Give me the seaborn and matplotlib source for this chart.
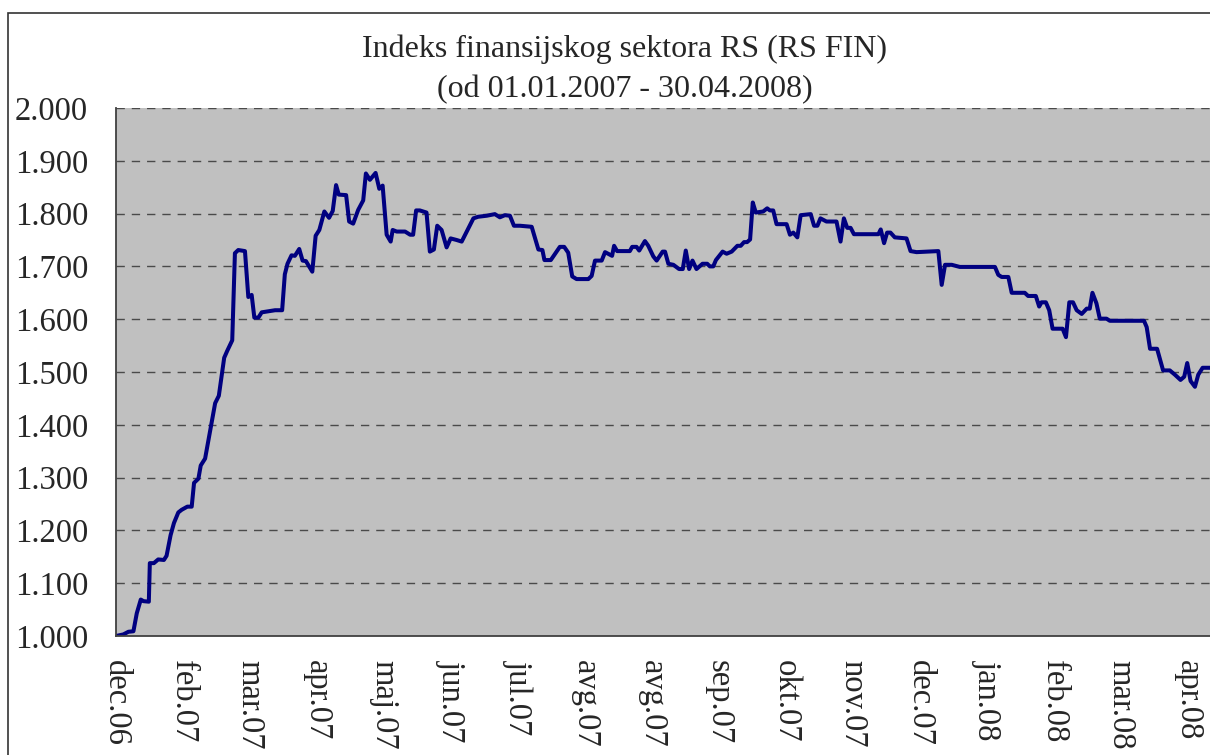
import pandas as pd
import seaborn as sns
import matplotlib.pyplot as plt
from matplotlib.patches import Rectangle

# trading-day index (0 = first point) and index value
day = [0.0, 2.2, 3.7, 5.2, 6.2, 7.4, 8.2, 9.8, 10.1, 11.3, 12.6, 14.3, 15.1, 16.3,
       17.3, 18.6, 19.6, 21.3, 22.6, 23.3, 24.6, 25.3, 26.6, 28.1, 29.6, 30.7, 32.3,
       33.2, 34.7, 35.5, 36.5, 38.5, 39.5, 40.5, 41.3, 42.5, 43.5, 45.5, 47.5, 49.6,
       50.4, 51.2, 52.4, 53.4, 54.7, 55.7, 56.7, 58.6, 59.6, 60.7, 62.2, 63.6, 64.7,
       65.7, 66.5, 68.7, 69.6, 70.8, 72.3, 73.8, 74.6, 75.8, 77.5, 78.6, 79.6,
       80.8, 82.0, 82.6, 83.8, 86.3, 87.8, 88.7, 89.6, 90.7, 92.7, 93.7, 94.9, 95.9,
       97.2, 98.7, 99.9, 101.7, 103.2, 104.7, 106.7, 108.1, 110.7, 113.1, 114.6,
       116.1, 117.6, 118.8, 120.6, 124.1, 126.1, 127.3, 127.9, 129.8, 132.5, 133.8,
       135.0, 136.2, 137.5, 141.0, 142.0, 143.0, 145.0, 146.0, 148.1, 148.7, 149.6,
       153.4, 154.1, 155.4, 156.2, 157.9, 158.9, 160.4, 161.4,
       163.2, 163.9, 164.9, 166.4, 168.1, 169.2, 170.1, 171.1, 172.1, 173.3, 175.1,
       176.5, 177.3, 178.3, 179.1, 181.1, 182.3, 183.8, 185.5, 186.5, 187.5, 188.4,
       189.3, 190.1, 191.0, 193.2, 194.4, 195.2, 196.2, 197.2, 200.2, 201.2, 202.2,
       203.4, 204.4, 207.4, 208.4, 209.4, 210.3, 212.1, 215.1, 216.3, 217.3, 218.3,
       219.3, 220.3, 227.6, 228.3, 229.3, 230.2, 231.2, 232.5, 236.0, 237.2, 239.0,
       245.5, 246.5, 247.5, 249.5, 251.9, 262.4, 263.4, 264.4, 266.4, 267.4, 271.3,
       272.3, 274.6, 275.6, 276.3, 277.6, 278.6, 279.6, 282.6, 283.6, 284.6, 285.7,
       286.8, 288.3, 289.8, 290.7, 291.5, 292.7, 293.7, 295.7, 296.7, 306.9, 307.7,
       308.7, 310.8, 312.6, 314.6, 316.1, 317.8, 318.9, 319.8, 320.8, 322.1, 323.1,
       324.4, 326.6]
index_value = [1.000, 1.003, 1.008, 1.009, 1.043, 1.069, 1.066, 1.065, 1.138, 1.138,
               1.145, 1.144, 1.152, 1.191, 1.214, 1.234, 1.239, 1.245, 1.245, 1.290,
               1.298, 1.323, 1.336, 1.389, 1.441, 1.455, 1.527, 1.540, 1.560, 1.725,
               1.731, 1.729, 1.642, 1.646, 1.603, 1.603, 1.613, 1.615, 1.617, 1.617,
               1.685, 1.705, 1.721, 1.720, 1.733, 1.711, 1.710, 1.690, 1.758, 1.769,
               1.804, 1.792, 1.805, 1.854, 1.836, 1.835, 1.785, 1.781, 1.807, 1.825,
               1.876, 1.864, 1.877, 1.847, 1.853,
               1.760, 1.747, 1.769, 1.766, 1.766, 1.760, 1.760, 1.806, 1.806, 1.802,
               1.728, 1.732, 1.777, 1.769, 1.736, 1.753, 1.750, 1.747, 1.766, 1.791,
               1.794, 1.796, 1.799, 1.793, 1.797, 1.796, 1.777, 1.777, 1.775, 1.732,
               1.731, 1.712, 1.712, 1.737, 1.737, 1.726, 1.681, 1.676, 1.676, 1.682,
               1.711, 1.711, 1.727, 1.720, 1.739, 1.729, 1.729, 1.737, 1.737, 1.730,
               1.748, 1.739, 1.719, 1.711,
               1.728, 1.728, 1.705, 1.703, 1.695, 1.695, 1.730, 1.695, 1.711, 1.695,
               1.705, 1.705, 1.700, 1.700, 1.712, 1.728, 1.724, 1.728, 1.739, 1.739,
               1.746, 1.746, 1.751, 1.821, 1.802, 1.804, 1.810, 1.806, 1.806, 1.780,
               1.780, 1.760, 1.764, 1.755, 1.797, 1.799, 1.777, 1.777, 1.791, 1.785,
               1.785, 1.747, 1.791, 1.773, 1.773, 1.761, 1.761, 1.770, 1.744, 1.764,
               1.764, 1.755, 1.753, 1.729, 1.727,
               1.729, 1.665, 1.703, 1.703, 1.699, 1.699, 1.684, 1.680, 1.680, 1.650,
               1.650, 1.644, 1.644, 1.624, 1.632, 1.632, 1.617, 1.582, 1.582, 1.566,
               1.632, 1.632, 1.617, 1.610, 1.620, 1.620, 1.650, 1.630, 1.601, 1.601,
               1.597, 1.597, 1.585, 1.544, 1.544, 1.503, 1.503, 1.495, 1.485, 1.491,
               1.517, 1.483, 1.472, 1.495, 1.508, 1.508]

month_labels = ['dec.06', 'feb.07', 'mar.07', 'apr.07', 'maj.07', 'jun.07', 'jul.07',
                'avg.07', 'avg.07', 'sep.07', 'okt.07', 'nov.07', 'dec.07', 'jan.08',
                'feb.08', 'mar.08', 'apr.08']
label_step = 20
y_ticks = [1.0, 1.1, 1.2, 1.3, 1.4, 1.5, 1.6, 1.7, 1.8, 1.9, 2.0]
y_labels = ['1.000', '1.100', '1.200', '1.300', '1.400', '1.500', '1.600', '1.700',
            '1.800', '1.900', '2.000']

df = pd.DataFrame({'day': day, 'value': index_value})

sns.set_style('white')
plt.rcParams['font.family'] = ['Liberation Serif', 'DejaVu Serif']

fig = plt.figure(figsize=(12.1, 7.55), dpi=100)
ax = fig.add_axes([116 / 1210, 1 - 636 / 755, 1 - 116 / 1210, 528 / 755])
ax.set_facecolor('#C0C0C0')

sns.lineplot(data=df, x='day', y='value', ax=ax, color='#000080', linewidth=2.9,
             sort=False, estimator=None)

ax.set_xlim(0, max(day))
ax.set_ylim(1.0, 2.0)
ax.set_yticks(y_ticks)
ax.set_yticklabels(y_labels, fontsize=23.5)
ax.set_xticks([i * label_step for i in range(len(month_labels))])
ax.set_xticklabels(month_labels, fontsize=23.5, rotation=270, ha='center', va='top')
ax.tick_params(axis='y', length=0, pad=20)
ax.tick_params(axis='x', length=0, pad=17)
ax.set_xlabel('')
ax.set_ylabel('')

ax.grid(False)
for t in y_ticks[1:]:
    ax.axhline(t, color='#4a4a4a', linewidth=1.0, linestyle=(0, (6, 5)), zorder=1)

for side in ['top', 'right']:
    ax.spines[side].set_visible(False)
for side in ['left', 'bottom']:
    ax.spines[side].set_color('#404040')
    ax.spines[side].set_linewidth(1.3)

# chart area border
fig.patches.append(Rectangle((8 / 1210, -0.2), 2, 0.2 + 1 - 13 / 755, transform=fig.transFigure,
                             fill=False, edgecolor='#333333', linewidth=1.2))

fig.text(625 / 1210, 1 - 69.5 / 755, 'Indeks finansijskog sektora RS (RS FIN)\n(od 01.01.2007 - 30.04.2008)',
         ha='center', va='center', fontsize=23, linespacing=1.52)

fig.savefig('out.png', dpi=100)
plt.close(fig)
